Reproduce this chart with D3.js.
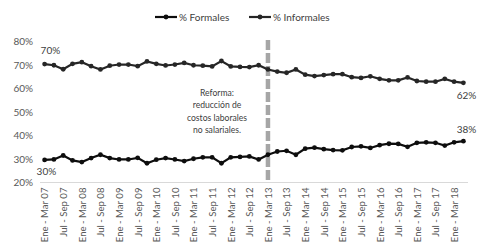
<!DOCTYPE html>
<html><head><meta charset="utf-8">
<script src="https://cdn.jsdelivr.net/npm/d3@7"></script>
<style>body{margin:0;background:#fff}svg{display:block;font-family:Lato,"Open Sans",sans-serif}</style>
</head><body><svg id="c" width="477" height="250"></svg>
<script>
const quarters = ["Ene - Mar","Abr - Jun","Jul - Sep","Oct - Dic"];
const years = ["07","08","09","10","11","12","13","14","15","16","17","18"];
const categories = [];
years.forEach(y => quarters.forEach(q => categories.push(q + " " + y)));
categories.splice(46);
const formales = [29.6,29.8,31.5,29.4,28.7,30.4,31.8,30.4,29.8,29.8,30.5,28.2,29.7,30.4,29.8,29.1,30.1,30.7,30.7,28.2,30.7,30.9,31.1,29.8,31.8,33.2,33.5,31.8,34.4,34.8,34.2,33.8,33.7,35.1,35.4,34.7,35.9,36.5,36.4,35.2,36.9,37.1,36.9,35.7,37.1,37.6];
const informales = [70.4,69.9,68.2,70.5,71.2,69.5,68.1,69.7,70.2,70.2,69.5,71.5,70.5,69.8,70.2,70.9,69.9,69.7,69.4,71.7,69.4,69.2,69.1,69.9,68.1,67.2,66.7,68.1,65.9,65.3,65.7,66.1,66.1,64.8,64.5,65.2,64.1,63.5,63.5,64.7,63.2,62.9,62.9,64.1,62.9,62.4];
const yTicks = [20,30,40,50,60,70,80];
const seriesNames = ["% Formales","% Informales"];
const reformCategory = "Ene - Mar 13";
const reformText = ["Reforma:","reducción de","costos laborales","no salariales."];

const svg = d3.select("#c");
const x = d3.scalePoint().domain(categories).range([44.6, 463.4]);
const y = d3.scaleLinear().domain([20,80]).range([182.5, 41.5]);

svg.append("g").selectAll("text").data(yTicks).join("text")
  .attr("x", 33).attr("y", d => y(d)).attr("dy","0.35em")
  .attr("text-anchor","end").attr("font-size",10).attr("fill","#595959")
  .text(d => d + "%");

const xAxis = d3.axisBottom(x).tickSize(0).tickValues(categories.filter((d,i)=>i%2===0));
const gx = svg.append("g").attr("transform","translate(0,182.5)").call(xAxis);
gx.select(".domain").remove();
svg.append("line").attr("x1",40).attr("x2",468).attr("y1",182.5).attr("y2",182.5)
  .attr("stroke","#d9d9d9").attr("stroke-width",1);
gx.selectAll("text").attr("transform","rotate(-90)").attr("text-anchor","end")
  .attr("x",-5).attr("y",0).attr("dy","0.35em")
  .attr("font-size",9.6).attr("font-family","Lato,'Open Sans',sans-serif").attr("fill","#595959");

svg.append("line").attr("x1",x(reformCategory)).attr("x2",x(reformCategory))
  .attr("y1",40).attr("y2",182).attr("stroke","#a6a6a6").attr("stroke-width",4.5)
  .attr("stroke-dasharray","10,3");

svg.append("g").selectAll("text").data(reformText).join("text")
  .attr("x",217).attr("y",(d,i)=>96+i*12.3).attr("text-anchor","middle")
  .attr("font-size",8.6).attr("fill","#404040").text(d=>d);

const line = d3.line().x((d,i)=>x(categories[i])).y(d=>y(d));
const series = [{v:formales,c:"#0d0d0d"},{v:informales,c:"#262626"}];
series.forEach(s=>{
  svg.append("path").datum(s.v).attr("d",line).attr("fill","none")
    .attr("stroke",s.c).attr("stroke-width",2.2);
  svg.append("g").selectAll("circle").data(s.v).join("circle")
    .attr("cx",(d,i)=>x(categories[i])).attr("cy",d=>y(d)).attr("r",2.4).attr("fill",s.c);
});

const lab = (t,xx,yy,anchor)=>svg.append("text").attr("x",xx).attr("y",yy)
  .attr("text-anchor",anchor).attr("font-size",10).attr("fill","#404040").text(t);
const n = categories.length-1;
lab(Math.round(informales[0])+"%", x(categories[0])-4, y(informales[0])-10, "start");
lab(Math.round(formales[0])+"%", x(categories[0])-8, y(formales[0])+15, "start");
lab(Math.round(informales[n])+"%", x(categories[n])+13, y(informales[n])+16, "end");
lab(Math.round(formales[n])+"%", x(categories[n])+13, y(formales[n])-8, "end");

const leg = svg.append("g").attr("transform","translate(0,17)");
const lx = [155, 249];
seriesNames.forEach((nm,i)=>{
  const c = series[i].c;
  leg.append("line").attr("x1",lx[i]).attr("x2",lx[i]+22).attr("y1",0).attr("y2",0)
    .attr("stroke",c).attr("stroke-width",2.2);
  leg.append("circle").attr("cx",lx[i]+11).attr("cy",0).attr("r",2.4).attr("fill",c);
  leg.append("text").attr("x",lx[i]+24).attr("y",0).attr("dy","0.35em")
    .attr("font-size",10).attr("fill","#404040").text(nm);
});
</script></body></html>
